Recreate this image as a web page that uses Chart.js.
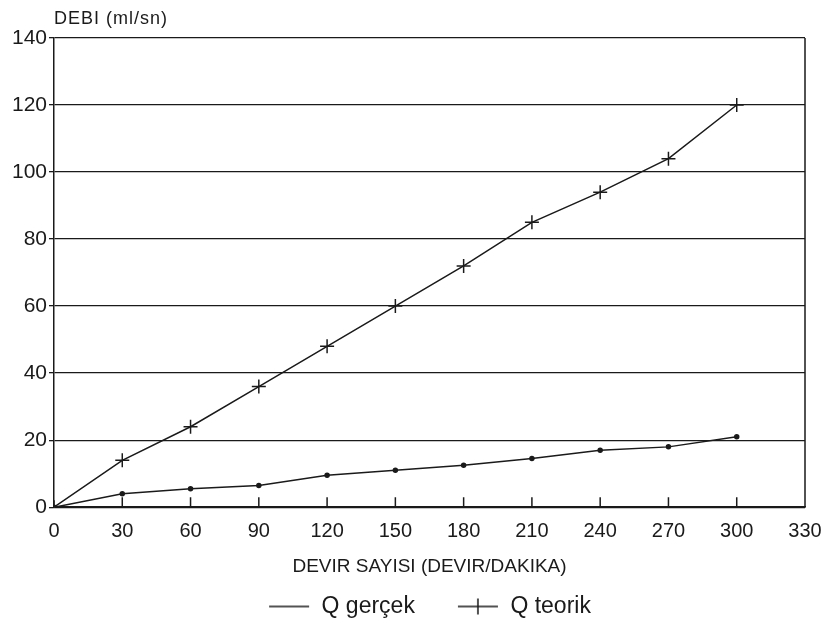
<!DOCTYPE html>
<html>
<head>
<meta charset="utf-8">
<script src="https://cdn.jsdelivr.net/npm/chart.js@4/dist/chart.umd.min.js"></script>
<style>
  body { margin: 0; background: #fff; }
  #wrap { width: 827px; height: 635px; }
</style>
</head>
<body>
<div id="wrap"><canvas id="debiChart"></canvas></div>
<script>
var devir = [0, 30, 60, 90, 120, 150, 180, 210, 240, 270, 300];
var qGercek = [0, 4, 5.5, 6.5, 9.5, 11, 12.5, 14.5, 17, 18, 21];
var qTeorik = [0, 14, 24, 36, 48, 60, 72, 85, 94, 104, 120];

var ink = '#1a1a1a';
var fontFamily = '"Liberation Sans", Arial, sans-serif';

var toPoints = function(xs, ys) {
    return xs.map(function(x, i) { return { x: x, y: ys[i] }; });
};

// legend swatches: plain line, and line with a cross bar
// (transparent margin on the left gives the gap between the two items)
var makeSwatch = function(withTick) {
    var c = document.createElement('canvas');
    c.width = 74; c.height = 18;
    var g = c.getContext('2d');
    g.strokeStyle = ink;
    g.lineWidth = 1.5;
    g.beginPath();
    g.moveTo(33, 9); g.lineTo(73, 9);
    if (withTick) { g.moveTo(53, 1); g.lineTo(53, 17); }
    g.stroke();
    return c;
};

var framePlugin = {
    id: 'frame',
    afterDraw: function(chart) {
        var ctx = chart.ctx;
        var area = chart.chartArea;
        var xScale = chart.scales.x;
        ctx.save();
        ctx.strokeStyle = ink;
        ctx.lineWidth = 1.5;
        ctx.beginPath();
        ctx.moveTo(area.right, area.top);
        ctx.lineTo(area.right, area.bottom);
        // inward ticks on the x axis
        devir.forEach(function(v) {
            if (v === 0) return;
            var px = xScale.getPixelForValue(v);
            ctx.moveTo(px, area.bottom);
            ctx.lineTo(px, area.bottom - 10);
        });
        ctx.stroke();
        ctx.fillStyle = ink;
        ctx.font = '18px ' + fontFamily;
        ctx.letterSpacing = '1px';
        ctx.textBaseline = 'bottom';
        ctx.fillText('DEBI (ml/sn)', area.left, area.top - 10);
        ctx.restore();
    }
};

new Chart(document.getElementById('debiChart'), {
    type: 'line',
    data: {
        datasets: [
            {
                label: 'Q gerçek',
                data: toPoints(devir, qGercek),
                borderColor: ink,
                backgroundColor: ink,
                borderWidth: 1.5,
                pointRadius: 2,
                pointStyle: 'circle',
                tension: 0
            },
            {
                label: 'Q teorik',
                data: toPoints(devir, qTeorik),
                borderColor: ink,
                backgroundColor: ink,
                borderWidth: 1.5,
                pointRadius: 7,
                pointBorderWidth: 1.5,
                pointStyle: 'cross',
                tension: 0
            }
        ]
    },
    options: {
        responsive: true,
        maintainAspectRatio: false,
        animation: false,
        layout: { padding: { top: 38, right: 0, left: 0, bottom: 7 } },
        plugins: {
            tooltip: { enabled: false },
            legend: {
                position: 'bottom',
                labels: {
                    color: ink,
                    font: { family: fontFamily, size: 23 },
                    usePointStyle: true,
                    pointStyleWidth: 74,
                    padding: 10,
                    generateLabels: function(chart) {
                        return chart.data.datasets.map(function(ds, i) {
                            return {
                                text: ds.label,
                                pointStyle: makeSwatch(i === 1),
                                fontColor: ink,
                                datasetIndex: i
                            };
                        });
                    }
                }
            }
        },
        scales: {
            x: {
                type: 'linear',
                min: 0,
                max: 330,
                ticks: {
                    stepSize: 30,
                    color: ink,
                    font: { family: fontFamily, size: 20 },
                    padding: 12
                },
                grid: { drawOnChartArea: false, drawTicks: false },
                border: { color: ink, width: 1.5 },
                title: {
                    display: true,
                    text: 'DEVIR SAYISI (DEVIR/DAKIKA)',
                    color: ink,
                    font: { family: fontFamily, size: 19 },
                    padding: { top: 0, bottom: 7 }
                },
                afterFit: function(scale) { scale.paddingRight = 22; }
            },
            y: {
                min: 0,
                max: 140,
                ticks: {
                    stepSize: 20,
                    color: ink,
                    font: { family: fontFamily, size: 21 },
                    padding: 2
                },
                grid: { color: ink, lineWidth: 1.3, tickLength: 5 },
                border: { color: ink, width: 1.5 },
                afterFit: function(scale) { scale.width = 54; }
            }
        }
    },
    plugins: [framePlugin]
});
</script>
</body>
</html>
